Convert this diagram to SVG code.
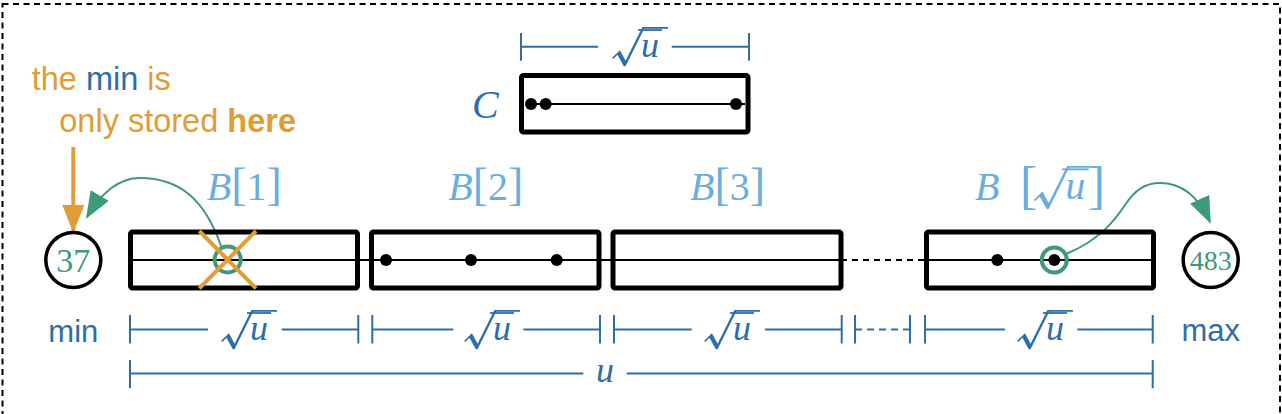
<svg xmlns="http://www.w3.org/2000/svg" xmlns:xlink="http://www.w3.org/1999/xlink" width="1282" height="414" viewBox="0 0 1282 414">
<style>
.box{fill:none;stroke:#000;stroke-width:5;stroke-linejoin:round}
.mid{stroke:#000;stroke-width:2;fill:none}
.dot{fill:#000}
.dim{stroke:#2e6ea8;stroke-width:2;fill:none}
.m{font-family:"Liberation Serif",serif}
.it{font-style:italic}
.bl{fill:#6aaee0;font-size:40px}
.br{font-size:46px}
.sans{font-family:"Liberation Sans",Arial,sans-serif;font-size:31px}
.note{font-size:32.5px}
.or{fill:#e19c35}
.db{fill:#2e6ea8}
.gr{stroke:#3f997b;stroke-width:2;fill:none}
.ring{stroke:#3f997b;stroke-width:4;fill:none}
.num{fill:#3f997b;font-family:"Liberation Serif",serif;text-anchor:middle}
.circ{fill:#fff;stroke:#000;stroke-width:3.5}
</style>
<defs>
<g id="sq">
<text transform="translate(-26,5) scale(1.45,1)" font-family="'Noto Sans CJK JP',sans-serif" font-size="40" fill="currentColor">√</text>
<text x="5" y="0" class="m it" font-size="36" fill="currentColor">u</text>
<line x1="2" y1="-27" x2="26" y2="-27" stroke="currentColor" stroke-width="1.8"/>
</g>
<marker id="ga" markerUnits="userSpaceOnUse" markerWidth="27" markerHeight="21" refX="25" refY="10.5" orient="auto" viewBox="0 0 27 21">
<path d="M0,0 L27,10.5 L0,21 z" fill="#3f997b"/>
</marker>
<marker id="oa" markerUnits="userSpaceOnUse" markerWidth="28" markerHeight="22" refX="26" refY="11" orient="auto" viewBox="0 0 28 22">
<path d="M0,0 L28,11 L0,22 z" fill="#e19c35"/>
</marker>
</defs>

<rect x="2.5" y="4" width="1277.5" height="420" fill="none" stroke="#000" stroke-width="2" stroke-dasharray="6,4.5"/>

<g id="connectors">
<line class="mid" x1="130" y1="260" x2="841" y2="260"/>
<line class="mid" x1="841" y1="260" x2="926" y2="260" stroke-dasharray="6,5"/>
<line class="mid" x1="926" y1="260" x2="1153" y2="260"/>
<path class="gr" d="M221,246 C205,200 180,178 140,178 C118,178 100,195 87,217" marker-end="url(#ga)"/>
<path class="gr" d="M1066,254 C1100,240 1115,220 1125,205 C1135,190 1145,183 1160,183 C1185,183 1200,200 1210,222" marker-end="url(#ga)"/>
<line x1="73.3" y1="147" x2="73.3" y2="231" stroke="#e19c35" stroke-width="4" marker-end="url(#oa)"/>
</g>

<g id="note">
<text class="sans note" x="31.7" y="89.5"><tspan class="or">the </tspan><tspan class="db">min</tspan><tspan class="or"> is</tspan></text>
<text class="sans note or" x="59.3" y="132">only stored <tspan font-weight="bold">here</tspan></text>
</g>

<g id="C">
<text class="m it db" x="472" y="118" font-size="40">C</text>
<rect class="box" x="521.5" y="75.5" width="226.5" height="56.5" rx="2"/>
<line class="mid" x1="531" y1="104" x2="745" y2="104"/>
<circle class="dot" cx="531" cy="104" r="6"/>
<circle class="dot" cx="545.7" cy="104" r="6"/>
<circle class="dot" cx="736" cy="104" r="6"/>
</g>

<g id="min">
<circle class="circ" cx="73.3" cy="260" r="27.5"/>
<text class="num" x="73.3" y="271.7" font-size="34">37</text>
<text class="sans db" x="73.3" y="342" text-anchor="middle">min</text>
</g>

<g id="max">
<circle class="circ" cx="1210.7" cy="260" r="27.5"/>
<text class="num" x="1210.7" y="270" font-size="28">483</text>
<text class="sans db" x="1210.7" y="341" text-anchor="middle">max</text>
</g>

<g id="B1">
<rect class="box" x="130.5" y="232" width="227" height="56" rx="2"/>
<text class="m bl" x="206.7" y="200"><tspan class="it">B</tspan><tspan class="br">[</tspan>1<tspan class="br">]</tspan></text>
<circle class="ring" cx="227.7" cy="259.5" r="13"/>
<line x1="199.3" y1="231" x2="256" y2="288.3" stroke="#e19c35" stroke-width="4"/>
<line x1="256" y1="231" x2="199.3" y2="288.3" stroke="#e19c35" stroke-width="4"/>
</g>

<g id="B2">
<rect class="box" x="371.5" y="232" width="227.5" height="56" rx="2"/>
<text class="m bl" x="448.3" y="200"><tspan class="it">B</tspan><tspan class="br">[</tspan>2<tspan class="br">]</tspan></text>
<circle class="dot" cx="386" cy="260" r="6"/>
<circle class="dot" cx="471" cy="260" r="6"/>
<circle class="dot" cx="556.7" cy="260" r="6"/>
</g>

<g id="B3">
<rect class="box" x="613" y="232" width="228" height="56" rx="2"/>
<text class="m bl" x="690" y="200"><tspan class="it">B</tspan><tspan class="br">[</tspan>3<tspan class="br">]</tspan></text>
</g>

<g id="B4">
<rect class="box" x="926.5" y="232" width="227" height="56" rx="2"/>
<text class="m bl" x="975" y="200"><tspan class="it">B</tspan></text>
<text class="m" x="1020" y="203" font-size="52" fill="#6aaee0">[</text>
<text class="m" x="1088" y="203" font-size="52" fill="#6aaee0">]</text>
<use xlink:href="#sq" transform="translate(1060,199) scale(1.1)" color="#6aaee0"/>
<circle class="dot" cx="997.3" cy="260" r="6"/>
<circle class="dot" cx="1054.3" cy="260" r="6"/>
<circle class="ring" cx="1054.3" cy="260" r="12.5"/>
</g>

<g id="dims">
<path class="dim" d="M521,33V60.7M749,33V60.7M521,46.7H598M671.7,46.7H749"/>
<use xlink:href="#sq" x="636" y="57" color="#2e6ea8"/>

<path class="dim" d="M130,315V343.5M358.3,315V343.5M130,329.5H208M281.7,329.5H358.3"/>
<use xlink:href="#sq" x="245" y="340" color="#2e6ea8"/>
<path class="dim" d="M372.3,315V343.5M600,315V343.5M372.3,329.5H453.3M523.3,329.5H600"/>
<use xlink:href="#sq" x="488" y="340" color="#2e6ea8"/>
<path class="dim" d="M614,315V343.5M841.7,315V343.5M614,329.5H691.7M765,329.5H841.7"/>
<use xlink:href="#sq" x="728" y="340" color="#2e6ea8"/>
<path class="dim" d="M855,315V343.5M910,315V343.5"/>
<line class="dim" x1="855" y1="329.5" x2="910" y2="329.5" stroke-dasharray="7,5"/>
<path class="dim" d="M925,315V343.5M1152.7,315V343.5M925,329.5H1005M1077.3,329.5H1152.7"/>
<use xlink:href="#sq" x="1041" y="340" color="#2e6ea8"/>

<path class="dim" d="M130,360V388.3M1152.7,360V388.3M130,373.5H583.3M626.7,373.5H1152.7"/>
<text class="m it db" x="605" y="382" font-size="36" text-anchor="middle">u</text>
</g>
</svg>
